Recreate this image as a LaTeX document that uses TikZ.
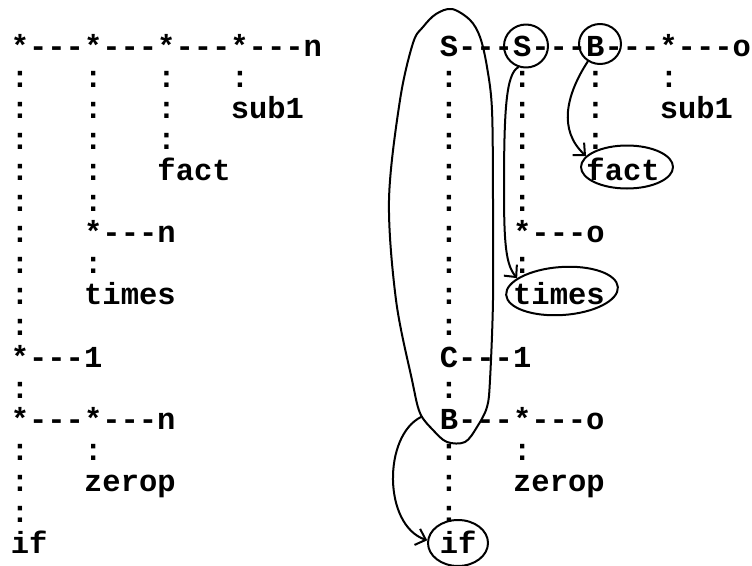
\documentclass[tikz,border=0pt]{standalone}
\usepackage{fontspec}
\setmonofont{Liberation Mono}
\usetikzlibrary{shapes.geometric,arrows.meta}
\newcommand\st{*}
\newcommand\dd{-{}-{}-}
\newcommand\tk[5]{\node[tok] (#1) at ({#2+#3*18.33-9.165},{47+#4*31.1+9}) {#5};}
\begin{document}
\begin{tikzpicture}[x=1pt,y=-1pt,
  tok/.style={anchor=base west,inner sep=0pt,outer sep=0pt,font=\fontsize{30.5}{31}\selectfont\ttfamily\bfseries},
  hand/.style={line width=2pt,line cap=round,line join=round},
  ring/.style={hand,draw,ellipse,inner sep=0pt},
  arr/.style={hand,-{Straight Barb[length=9pt,width=17pt,line width=2pt]}}]
\useasboundingbox (0,0) rectangle (752,565);
% left tree
\tk{L0}{20}{0}{0}{\st\dd\st\dd\st\dd\st\dd n}
\tk{Lsub}{20}{12}{2}{sub1}
\tk{Lfact}{20}{8}{4}{fact}
\tk{L6}{20}{4}{6}{\st\dd n}
\tk{Ltimes}{20}{4}{8}{times}
\tk{L10}{20}{0}{10}{\st\dd 1}
\tk{L12}{20}{0}{12}{\st\dd\st\dd n}
\tk{Lzerop}{20}{4}{14}{zerop}
\tk{Lif}{20}{0}{16}{if}
% right tree
\tk{R0}{449}{0}{0}{S\dd S\dd B\dd\st\dd o}
\tk{Rsub}{449}{12}{2}{sub1}
\tk{Rfact}{449}{8}{4}{fact}
\tk{R6}{449}{4}{6}{\st\dd o}
\tk{Rtimes}{449}{4}{8}{times}
\tk{R10}{449}{0}{10}{C\dd 1}
\tk{R12}{449}{0}{12}{B\dd\st\dd o}
\tk{Rzerop}{449}{4}{14}{zerop}
\tk{Rif}{449}{0}{16}{if}
% colons
\foreach \X/\p in {20/L,449/R}{
  \foreach \c/\r in {0/1,0/2,0/3,0/4,0/5,0/6,0/7,0/8,0/9,0/11,0/13,0/14,0/15,
                     4/1,4/2,4/3,4/4,4/5,4/7,4/13,8/1,8/2,8/3,12/1}{
    \tk{\p c\c-\r}{\X}{\c}{\r}{:}
  }
}
% hand-drawn marks
\node[ring,minimum width=44pt,minimum height=43pt] (cS) at (526,46) {};
\node[ring,minimum width=42pt,minimum height=40pt] (cB) at (600,44) {};
\node[ring,minimum width=92pt,minimum height=43pt] (efact) at (627,167) {};
\node[ring,minimum width=112pt,minimum height=48pt,rotate=4] (etimes) at (562,291) {};
\node[ring,minimum width=60pt,minimum height=46pt] (eif) at (458,543) {};
\draw[hand] plot[smooth cycle,tension=0.55] coordinates {(452,9) (470,20) (480,37) (487,67) (492,110) (493,200) (493,300) (490,380) (487,407) (477,427) (465,442) (447,442) (433,430) (420,413) (412,380) (396,300) (389,200) (400,100) (413,43) (423,27) (436,14)};
\coordinate (loopB) at (421,417);
\draw[arr] (cS.250) .. controls (506,74) and (504,110) .. (504,190) .. controls (504,245) and (506,265) .. (etimes.160);
\draw[arr] (cB.235) .. controls (566,95) and (558,130) .. (efact.165);
\draw[arr] (loopB) .. controls (383,436) and (383,525) .. (eif.175);
\end{tikzpicture}
\end{document}
